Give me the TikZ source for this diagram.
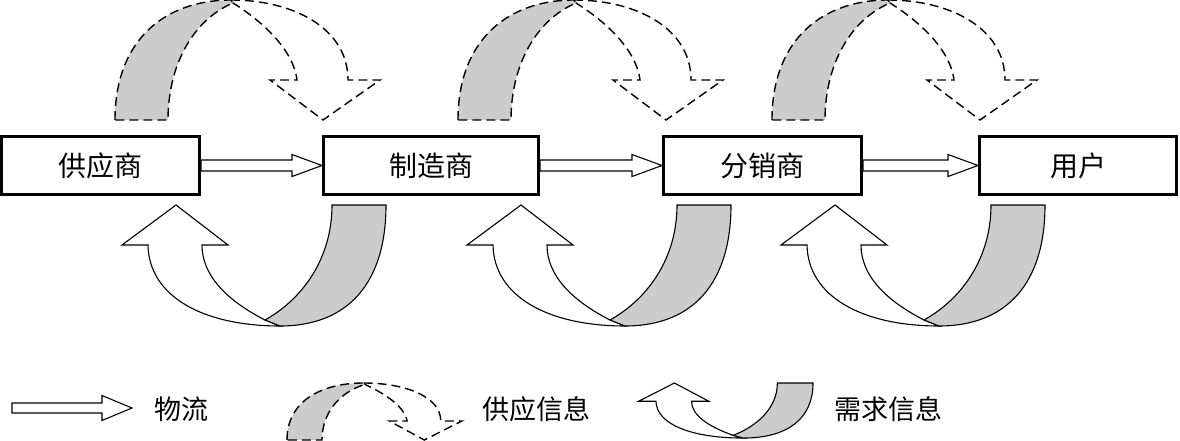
\documentclass[tikz,border=0pt]{standalone}
\usepackage{fontspec}
\newfontfamily\cjk{Noto Sans CJK SC}
\usetikzlibrary{calc}
\definecolor{bandgray}{gray}{0.8}
\tikzset{
	box/.style={draw, line width=3pt, minimum height=58pt, inner sep=0pt,
		font=\cjk\fontsize{28}{32}\selectfont},
	flow/.style={draw, line width=1.1pt, fill=white},
	supplyline/.style={line width=1.4pt, dash pattern=on 9pt off 5pt},
	demandline/.style={line width=1.1pt},
	legend/.style={anchor=west, inner sep=0pt, font=\cjk\fontsize{27}{30}\selectfont},
	pics/supply/.style={code={
		% white back side with the head
		\draw[supplyline, fill=white] (116,-120) .. controls (178,-120) and (233,-92) .. (233,-40)
			-- (265,-40) -- (208,0) -- (155,-40) -- (182,-40)
			.. controls (178,-72) and (145,-100) .. (118,-117) -- cycle;
		% grey front side
		\draw[supplyline, fill=bandgray] (0,0) .. controls (0,-82) and (52,-120) .. (116,-120)
			-- (118,-117) .. controls (78,-100) and (53,-55) .. (53,0) -- cycle;
	}},
	pics/demand/.style={code={
		\draw[demandline, fill=white] (-106,121) .. controls (-182,121) and (-237,92) .. (-238,40)
			-- (-264,40) -- (-210,0) -- (-158,40) -- (-184,40)
			.. controls (-184,70) and (-160,95) .. (-121,115) -- cycle;
		\draw[demandline, fill=bandgray] (0,0) .. controls (0,78) and (-38,121) .. (-106,121)
			-- (-121,115) .. controls (-85,95) and (-54,55) .. (-54,0) -- cycle;
	}}
}
\newcommand\flowarrow[4]{% from, to, half shaft, half head
	\draw[flow] let \p1=#1, \p2=#2 in
		(\x1,\y1+#3) -- (\x2-30pt,\y1+#3) -- (\x2-30pt,\y1+#4) -- (\x2,\y1)
		-- (\x2-30pt,\y1-#4) -- (\x2-30pt,\y1-#3) -- (\x1,\y1-#3) -- cycle;}

\begin{document}
\begin{tikzpicture}[x=1pt, y=-1pt]
\useasboundingbox (0,0) rectangle (1180,441);

% supply information (top)
\foreach \dx in {0,343,657}
	\pic at (115+\dx,120) {supply};
% demand information (bottom)
\foreach \dx in {0,345,659}
	\pic at (386+\dx,205) {demand};

\node[box, minimum width=198pt] (sup) at (100.5,165.5) {供应商};
\node[box, minimum width=215pt] (mfr) at (431,165.5) {制造商};
\node[box, minimum width=198pt] (dist) at (762.5,165.5) {分销商};
\node[box, minimum width=197pt] (user) at (1078,165.5) {用户};

\flowarrow{(sup.east)}{(mfr.west)}{5.5pt}{11pt}
\flowarrow{(mfr.east)}{(dist.west)}{5.5pt}{11pt}
\flowarrow{(dist.east)}{(user.west)}{5.5pt}{11pt}

% legend
\coordinate (lgA) at (12,408);
\coordinate (lgB) at (132,408);
\flowarrow{(lgA)}{(lgB)}{5pt}{12.5pt}
\node[legend] (lgflow) at (154,409) {物流};
\pic[xscale=0.66, yscale=0.475] at (287,440) {supply};
\node[legend] (lgsupply) at (482,409) {供应信息};
\pic[xscale=0.66, yscale=0.455] at (813,383) {demand};
\node[legend] (lgdemand) at (834,409) {需求信息};
\end{tikzpicture}
\end{document}
